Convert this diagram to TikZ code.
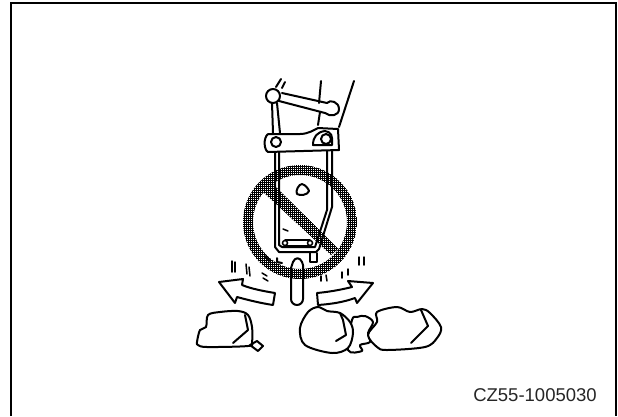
\documentclass[tikz,border=0pt]{standalone}
\usepackage{fontspec}
\setmainfont{Liberation Sans}
\usepackage{tikz}
\usetikzlibrary{patterns.meta}
\begin{document}
\begin{tikzpicture}[
    x=1pt, y=-1pt,
    part/.style={line width=2pt, line join=round, line cap=round},
    thinpart/.style={line width=1.5pt, line cap=round},
    rock/.style={part, smooth cycle, tension=0.55},
    banmark/.style={pattern={Hatch[angle=0, distance=2pt, line width=0.6pt]}, draw=none}
]
    \useasboundingbox (0,0) rectangle (618,416);
    \fill[white] (0,0) rectangle (618,416);
    \draw[line width=2pt] (11,416) -- (11,2.5) -- (616,2.5) -- (616,416);

    \path[banmark, even odd rule] (300,222) circle[radius=57] (300,222) circle[radius=47];
    \begin{scope}
        \clip (300,222) circle[radius=48];
        \path[banmark] (262,191) -- (270,181) -- (339,249) -- (331,255) -- cycle;
    \end{scope}

    \draw[part] (276,87) -- (281,79);
    \draw[part] (282,88) -- (285,82);
    \draw[part] (321,81) -- (319,103);
    \draw[part] (354,81) -- (339,127);
    \draw[part] (320,112) -- (318,125);
    \draw[part] (273,96) circle[radius=7];
    \draw[part] (282,93) -- (327,103);
    \draw[part] (279,101) -- (325,113);
    \draw[part] (327,103) .. controls (330,99) and (339,102) .. (339,109)
        .. controls (339,116) and (330,117) .. (325,113);
    \draw[part] (272,103) -- (273,133);
    \draw[part] (277,103) -- (280,133);

    \draw[part] (268,134) -- (300,134) .. controls (308,134) and (314,130) .. (318,128)
        -- (338,129) -- (339,150) -- (268,152) .. controls (264,150) and (263,138) .. (268,134);
    \draw[part] (276,142) circle[radius=5];
    \draw[part] (326,139) circle[radius=5];
    \draw[part] (313,145) .. controls (313,137) and (317,132) .. (325,131)
        .. controls (331,132) and (333,135) .. (332,145) -- cycle;

    \draw[part] (275,152) -- (275,247) -- (279,252) -- (316,252) -- (319,249) -- (332,207) -- (332,151);
    \draw[part] (279,152) -- (279,245) -- (282,247) -- (315,247) -- (327,210) -- (327,151);
    \draw[thinpart] (285,240) -- (310,240);
    \draw[thinpart] (285,245.5) -- (310,245.5);
    \draw[thinpart, fill=white] (285,243) circle[radius=2.5];
    \draw[thinpart, fill=white] (310,243) circle[radius=2.5];
    \draw[part] (302,184) .. controls (306,185) and (309,190) .. (309,191)
        .. controls (308,195) and (300,196) .. (297,194) .. controls (295,191) and (299,184) .. (302,184);
    \draw[thinpart] (283,229) -- (288,231);
    \draw[part] (310,253) -- (310,262) -- (317,262) -- (317,253);
    \draw[part] (277,258) -- (277,262) -- (282,263);
    \draw[part] (265,256) -- (270,261);

    \draw[part] (291,268) -- (291,299) arc[start angle=180, end angle=0, radius=6] -- (303,265);
    \draw[part] (293,262) .. controls (295,257) and (300,257) .. (302,262);
    \draw[part] (291,268) -- (293,262);
    \draw[part] (303,265) -- (302,262);

    \foreach \xa/\ya/\xb/\yb in {232/261/232/272, 235/262/235/272, 246/264/247/274, 249/267/250/276,
        262/273/267/276, 263/278/268/281, 321/276/321/281, 326/275/327/281,
        342/272/342/278, 348/269/348/275, 359/257/359/265, 364/257/364/265}
        \draw[thinpart] (\xa,\ya) -- (\xb,\yb);

    \draw[part] (219,282) -- (243,279) -- (242,285) .. controls (252,289) and (263,291) .. (275,293)
        -- (273,305) .. controls (260,303) and (248,300) .. (237,297) -- (235,303) -- cycle;
    \draw[part] (373,283) -- (348,281) -- (352,287) .. controls (340,290) and (328,292) .. (317,293)
        -- (318,305) .. controls (332,304) and (344,302) .. (355,298) -- (357,303) -- cycle;

    \draw[rock] plot coordinates {(197,342) (200,330) (206,327) (208,315) (220,312) (238,311)
        (248,315) (252,327) (252,342) (248,346) (207,347) (198,345)};
    \draw[part] (245,315) -- (248,330) -- (233,343);
    \draw[part] (250,345) -- (257,341) -- (263,346) -- (258,351) -- cycle;

    \draw[rock] plot coordinates {(348,350) (362,351) (360,345) (370,342) (368,333) (373,322)
        (365,316) (357,317) (352,320)};
    \draw[rock, fill=white] plot coordinates {(318,307) (308,312) (300,328) (305,345) (332,353)
        (348,348) (353,333) (350,322) (340,313) (327,311)};
    \draw[part] (340,313) -- (343,320) -- (346,335) -- (336,341);
    \draw[rock, fill=white] plot coordinates {(377,312) (397,307) (410,312) (422,309) (430,313)
        (441,327) (437,338) (425,347) (387,350) (377,347) (368,335) (377,322)};
    \draw[part] (421,310) -- (428,326) -- (411,343);

    \node[font=\fontsize{18.5}{20}\selectfont, text=black!85] (partcode) at (535,395) {CZ55-1005030};
\end{tikzpicture}
\end{document}
